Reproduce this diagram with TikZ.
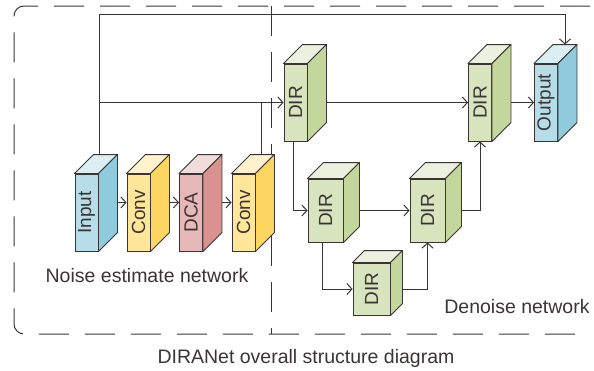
\documentclass[tikz,border=0pt]{standalone}
\usepackage{fontspec}
\setmainfont{Liberation Sans}
\usetikzlibrary{arrows.meta,calc}
\definecolor{ln}{HTML}{3B3434}
\definecolor{blF}{HTML}{B7DEE8}\definecolor{blS}{HTML}{8FCBDC}\definecolor{blT}{HTML}{DAEEF3}
\definecolor{yeF}{HTML}{FFE699}\definecolor{yeS}{HTML}{FDD661}\definecolor{yeT}{HTML}{FFF2CC}
\definecolor{rdF}{HTML}{E6B9B8}\definecolor{rdS}{HTML}{D9928F}\definecolor{rdT}{HTML}{F2DCDB}
\definecolor{grF}{HTML}{D7E4BD}\definecolor{grS}{HTML}{C3D69B}\definecolor{grT}{HTML}{EBF1DE}
\newcommand{\boxfont}{\fontsize{19}{21}\selectfont}
\newcommand{\lblfont}{\fontsize{19.5}{22}\selectfont}
\newcommand{\cub}[8]{%
  \node[draw=ln, line width=0.9pt, fill=#7F, minimum width=#4pt, minimum height=#5pt, inner sep=0pt] (#1) at (#2,#3) {};
  \filldraw[draw=ln, fill=#7T, line width=0.9pt, line join=round] (#1.north west) -- ++(#6,-#6) -- ($(#1.north east)+(#6,-#6)$) -- (#1.north east) -- cycle;
  \filldraw[draw=ln, fill=#7S, line width=0.9pt, line join=round] (#1.north east) -- ++(#6,-#6) -- ($(#1.south east)+(#6,-#6)$) -- (#1.south east) -- cycle;
  \node[rotate=90, font=\boxfont, text=ln, inner sep=0pt] (#1-l) at (#1.center) {#8};
}
\tikzset{
  conn/.style={draw=ln, line width=1pt},
  arr/.style={conn, -{Straight Barb[length=5pt,width=11pt]}},
  frame/.style={draw=ln, line width=1pt, dash pattern=on 30pt off 16pt},
}
\begin{document}
\begin{tikzpicture}[x=1pt,y=-1pt]
\useasboundingbox (0,0) rectangle (594,370);
% frames
\draw[frame, rounded corners=10pt] (590,6) -- (14,6) -- (14,334) -- (590,334);
\draw[frame] (271,6) -- (271,334);
% noise estimate boxes
\cub{in}{86.5}{212.5}{23}{77}{19}{bl}{Input}
\cub{ca}{138.5}{212.5}{23}{77}{19}{ye}{Conv}
\cub{dca}{191}{212.5}{23}{77}{19}{rd}{DCA}
\cub{cb}{243.5}{212.5}{23}{77}{19}{ye}{Conv}
% denoise boxes
\cub{d1}{295.5}{102.5}{23}{77}{19}{gr}{DIR}
\cub{d2}{480}{102.5}{23}{77}{19}{gr}{DIR}
\cub{out}{546}{102.5}{23}{77}{19}{bl}{Output}
\cub{m1}{325.5}{210.5}{35}{63}{16}{gr}{DIR}
\cub{m2}{427.5}{210.5}{35}{63}{16}{gr}{DIR}
\cub{b1}{371.5}{289}{37}{52}{12}{gr}{DIR}
% coordinates
\coordinate (inup) at ($(in.north west)+(25,-19)$);
\coordinate (cbup) at ($(cb.north west)+(30,-19)$);
\coordinate (outtop) at ($(out.north)+(19,-19)$);
% connectors
\draw[arr] (inup) |- ($(outtop)+(0,-30)$) -- (outtop);
\draw[arr] (inup |- d1.west) -- (d1.west);
\draw[conn] (cbup) -- (cbup |- d1.west);
\draw[arr] ($(in.east)+(19,-10)$) -- ($(ca.west)+(0,-10)$);
\draw[arr] ($(ca.east)+(19,-10)$) -- ($(dca.west)+(0,-10)$);
\draw[arr] ($(dca.east)+(19,-10)$) -- ($(cb.west)+(0,-10)$);
\draw[arr] ($(d1.east)+(19,0)$) -- (d2.west);
\draw[arr] ($(d2.east)+(19,0)$) -- (out.west);
\draw[arr] ($(d1.south west)+(10,0)$) |- (m1.west);
\draw[arr] ($(m1.east)+(16,0)$) -- (m2.west);
\draw[arr] ($(m1.south west)+(15,0)$) |- (b1.west);
\draw[arr] ($(b1.east)+(12,0)$) -| (m2.south);
\draw[arr] ($(m2.east)+(16,0)$) -| (d2.south);
% labels
\node[font=\lblfont, text=ln, anchor=base, inner sep=0pt] (lnoise) at (147,282) {Noise estimate network};
\node[font=\lblfont, text=ln, anchor=base, inner sep=0pt] (lden) at (517,313) {Denoise network};
\node[font=\lblfont, text=ln, anchor=base, inner sep=0pt] (lcap) at (306,363) {DIRANet overall structure diagram};
\end{tikzpicture}
\end{document}
